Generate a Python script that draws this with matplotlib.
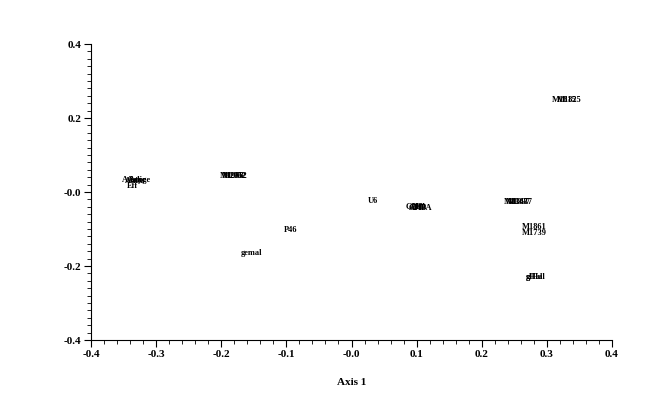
import matplotlib
matplotlib.use("Agg")
import matplotlib.pyplot as plt
from matplotlib.ticker import MultipleLocator, FuncFormatter

labels = ["Asiatic", "Ashe", "Astyge", "Asma", "Eff",
          "M1958", "M2052", "M1992",
          "P46", "gemal", "U6",
          "GHA", "APA", "GHPA", "APH",
          "M1367", "M1437", "M1397",
          "M1861", "M1739",
          "M1815", "M1825",
          "glHal", "gHal"]
axis1 = [-0.334, -0.328, -0.326, -0.332, -0.336,
         -0.183, -0.178, -0.180,
         -0.093, -0.154, 0.033,
         0.098, 0.104, 0.106, 0.101,
         0.253, 0.260, 0.256,
         0.280, 0.280,
         0.326, 0.334,
         0.283, 0.281]
axis2 = [0.032, 0.032, 0.032, 0.031, 0.016,
         0.043, 0.043, 0.042,
         -0.103, -0.165, -0.024,
         -0.041, -0.041, -0.042, -0.042,
         -0.027, -0.027, -0.028,
         -0.095, -0.111,
         0.249, 0.249,
         -0.230, -0.230]

fig = plt.figure(figsize=(6.64, 4.13), dpi=100)
ax = fig.add_axes([91/664, 1-340/413, (612-91)/664, (340-44)/413])

serif = ["Liberation Serif", "DejaVu Serif"]
for lab, x, y in zip(labels, axis1, axis2):
    ax.text(x, y, lab, ha="center", va="center", fontsize=6,
            family=serif, fontweight="bold")

ax.set_xlim(-0.4, 0.4)
ax.set_ylim(-0.4, 0.4)
ax.spines["top"].set_visible(False)
ax.spines["right"].set_visible(False)
ax.xaxis.set_major_locator(MultipleLocator(0.1))
ax.xaxis.set_minor_locator(MultipleLocator(0.02))
ax.yaxis.set_major_locator(MultipleLocator(0.2))
ax.yaxis.set_minor_locator(MultipleLocator(0.02))

def fmt(v, pos):
    s = "%.1f" % v
    if abs(v) < 1e-9:
        s = "-0.0"
    return s

ax.xaxis.set_major_formatter(FuncFormatter(fmt))
ax.yaxis.set_major_formatter(FuncFormatter(fmt))
ax.tick_params(which="major", direction="out", length=5, width=0.8, pad=2)
ax.tick_params(which="minor", direction="out", length=3, width=0.6)
for lab in ax.get_xticklabels() + ax.get_yticklabels():
    lab.set_family(serif)
    lab.set_fontweight("bold")
    lab.set_fontsize(8)
ax.set_xlabel("Axis 1", family=serif, fontweight="bold", fontsize=8, labelpad=14)

fig.savefig("out.png", dpi=100)
